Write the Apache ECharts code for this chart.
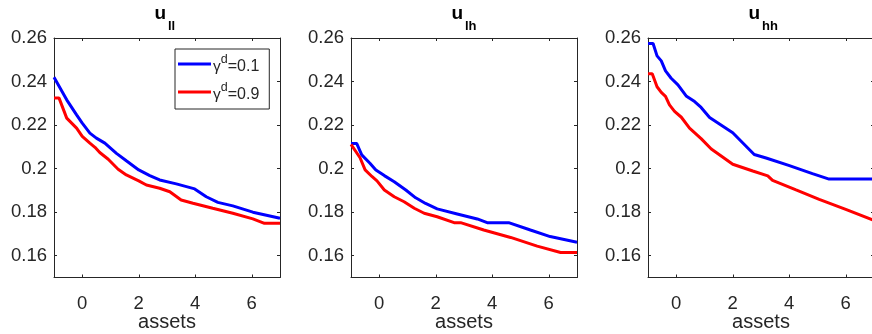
<!DOCTYPE html>
<html>
<head>
<meta charset="utf-8">
<script src="https://cdn.jsdelivr.net/npm/echarts@6/dist/echarts.min.js"></script>
<style>html,body{margin:0;padding:0;background:#fff;}#c{width:872px;height:334px;}</style>
</head>
<body>
<div id="c"></div>
<script>
// ---- data ----
const panelTitles = ['ll', 'lh', 'hh'];
const legendLabels = ['0.1', '0.9'];
const xTicks = [0, 2, 4, 6];
const yTicks = [0.16, 0.18, 0.20, 0.22, 0.24, 0.26];

const llLowX = [-1, -0.55, -0.2, 0, 0.27, 0.5, 0.8, 1.21, 1.56, 2, 2.39, 2.74, 3.33, 3.98, 4.39, 4.8, 5.33, 6.04, 7];
const llLowY = [0.242, 0.2316, 0.2247, 0.2209, 0.2163, 0.214, 0.2117, 0.207, 0.2036, 0.1994, 0.1968, 0.1948, 0.193, 0.1907, 0.1871, 0.1845, 0.1829, 0.18, 0.1772];
const llHighX = [-1, -0.82, -0.55, -0.2, 0, 0.27, 0.45, 0.62, 0.92, 1.27, 1.56, 2, 2.27, 2.74, 3.1, 3.5, 3.92, 4.62, 5.33, 6.04, 6.45, 7];
const llHighY = [0.2324, 0.2324, 0.2232, 0.2186, 0.2148, 0.2117, 0.2098, 0.2074, 0.2043, 0.1997, 0.1971, 0.1944, 0.1925, 0.191, 0.1894, 0.1856, 0.1841, 0.1818, 0.1795, 0.1769, 0.1749, 0.1749];

const lhLowX = [-1, -0.8, -0.62, -0.33, -0.12, 0.18, 0.53, 0.94, 1.29, 1.64, 2.05, 2.76, 3.47, 3.82, 4.58, 5.35, 6.05, 7];
const lhLowY = [0.2116, 0.2116, 0.2063, 0.2025, 0.1994, 0.1968, 0.194, 0.1902, 0.1866, 0.184, 0.1815, 0.1792, 0.1769, 0.1752, 0.1752, 0.1718, 0.1688, 0.1662];
const lhHighX = [-1, -0.68, -0.5, -0.26, -0.08, 0.18, 0.53, 0.88, 1.24, 1.59, 2.05, 2.65, 2.88, 3.7, 4.65, 5.59, 6.42, 7];
const lhHighY = [0.2111, 0.205, 0.1994, 0.1964, 0.1944, 0.1902, 0.1871, 0.1848, 0.1818, 0.1795, 0.1779, 0.1752, 0.1752, 0.1718, 0.1684, 0.1644, 0.1615, 0.1615];

const hhLowX = [-1, -0.82, -0.68, -0.53, -0.38, -0.18, 0.06, 0.35, 0.65, 0.88, 1.18, 2, 2.76, 3.18, 3.98, 4.82, 5.41, 7];
const hhLowY = [0.2575, 0.2575, 0.2518, 0.2495, 0.2449, 0.2415, 0.2385, 0.2334, 0.2308, 0.2281, 0.2235, 0.2165, 0.2065, 0.2049, 0.2015, 0.1977, 0.1952, 0.1952];
const hhHighX = [-1, -0.85, -0.68, -0.53, -0.38, -0.24, -0.06, 0.18, 0.47, 0.88, 1.24, 1.59, 2, 2.71, 3.24, 3.41, 4.24, 5.06, 6, 7];
const hhHighY = [0.2436, 0.2436, 0.2376, 0.235, 0.2332, 0.2293, 0.2263, 0.2236, 0.2186, 0.2138, 0.209, 0.2058, 0.202, 0.1989, 0.1967, 0.1946, 0.1902, 0.1859, 0.1813, 0.1762];

const lowX = [llLowX, lhLowX, hhLowX], lowY = [llLowY, lhLowY, hhLowY];
const highX = [llHighX, lhHighX, hhHighX], highY = [llHighY, lhHighY, hhHighY];

// ---- chart ----
const FONT = '"Liberation Sans", Arial, Helvetica, sans-serif';
const TXT = '#262626';
const AX = '#262626';
const lefts = [54, 351, 648];
const W = 226, TOP = 38, H = 239.5;

const grids = [], xAxes = [], yAxes = [], series = [], titles = [];
function pairs(xs, ys) { return xs.map((x, i) => [x, ys[i]]); }

for (let p = 0; p < 3; p++) {
  grids.push({ left: lefts[p], top: TOP, width: W, height: H, show: false, containLabel: false, outerBoundsMode: 'none' });
  const baseX = { type: 'value', gridIndex: p, min: -1, max: 7, splitLine: { show: false },
    axisLine: { show: true, onZero: false, lineStyle: { color: AX, width: 1 } } };
  xAxes.push(Object.assign({}, baseX, {
    position: 'bottom',
    name: 'assets', nameLocation: 'middle', nameGap: 35, nameMoveOverlap: false,
    nameTextStyle: { fontFamily: FONT, fontSize: 20, color: TXT },
    axisTick: { show: true, inside: true, length: 3, customValues: xTicks, lineStyle: { color: AX } },
    axisLabel: { show: true, customValues: xTicks, margin: 17, fontFamily: FONT, fontSize: 18.5, color: TXT }
  }));
  xAxes.push(Object.assign({}, baseX, {
    position: 'top',
    axisTick: { show: true, inside: true, length: 3, customValues: xTicks, lineStyle: { color: AX } },
    axisLabel: { show: false }
  }));
  const baseY = { type: 'value', gridIndex: p, min: 0.15, max: 0.26, splitLine: { show: false },
    axisLine: { show: true, onZero: false, lineStyle: { color: AX, width: 1 } } };
  yAxes.push(Object.assign({}, baseY, {
    position: 'left',
    axisTick: { show: true, inside: true, length: 3, customValues: yTicks, lineStyle: { color: AX } },
    axisLabel: { show: true, customValues: yTicks, margin: 7, fontFamily: FONT, fontSize: 18.5, color: TXT,
      formatter: v => String(+v.toFixed(2)) }
  }));
  yAxes.push(Object.assign({}, baseY, {
    position: 'right',
    axisTick: { show: true, inside: true, length: 3, customValues: yTicks, lineStyle: { color: AX } },
    axisLabel: { show: false }
  }));
  series.push({
    name: 'low', type: 'line', xAxisIndex: 2 * p, yAxisIndex: 2 * p, data: pairs(lowX[p], lowY[p]),
    showSymbol: false, symbol: 'none', lineStyle: { color: '#0000ff', width: 3 }, itemStyle: { color: '#0000ff' },
    animation: false, z: 3
  });
  series.push({
    name: 'high', type: 'line', xAxisIndex: 2 * p, yAxisIndex: 2 * p, data: pairs(highX[p], highY[p]),
    showSymbol: false, symbol: 'none', lineStyle: { color: '#ff0000', width: 3 }, itemStyle: { color: '#ff0000' },
    animation: false, z: 3
  });
  // main symbol "u"
  titles.push({
    text: 'u',
    left: lefts[p] + W / 2 - 1, top: 4, textAlign: 'right', padding: 0,
    textStyle: { fontFamily: FONT, fontSize: 19, fontWeight: 'bold', color: '#000' }
  });
  // subscript
  titles.push({
    text: panelTitles[p],
    left: lefts[p] + W / 2 + 1, top: 20, textAlign: 'left', padding: 0,
    textStyle: { fontFamily: FONT, fontSize: 13, fontWeight: 'bold', color: '#000' }
  });
}

const legendMap = { low: legendLabels[0], high: legendLabels[1] };

const chart = echarts.init(document.getElementById('c'), null, { renderer: 'canvas' });
chart.setOption({
  animation: false,
  backgroundColor: '#fff',
  title: titles,
  grid: grids,
  xAxis: xAxes,
  yAxis: yAxes,
  series: series,
  legend: {
    data: ['low', 'high'],
    orient: 'vertical',
    left: 175, top: 49,
    padding: [4, 10, 6, 3],
    itemGap: 6,
    itemWidth: 33, itemHeight: 22,
    backgroundColor: '#fff',
    borderColor: '#262626', borderWidth: 1,
    icon: 'path://M0,0 L33,0 L33,3 L0,3 Z',
    formatter: n => '{g|γ}{s|d}{t|=' + legendMap[n] + '}',
    textStyle: {
      padding: [0, 0, 0, -3],
      rich: {
        g: { fontFamily: FONT, fontSize: 15.5, color: TXT, lineHeight: 22, verticalAlign: 'bottom', padding: [6, 0, 0, 0] },
        s: { fontFamily: FONT, fontSize: 12.5, color: TXT, lineHeight: 14, verticalAlign: 'top' },
        t: { fontFamily: FONT, fontSize: 16, color: TXT, lineHeight: 22, verticalAlign: 'bottom', padding: [6, 0, 0, 0] }
      }
    }
  }
});
</script>
</body>
</html>
